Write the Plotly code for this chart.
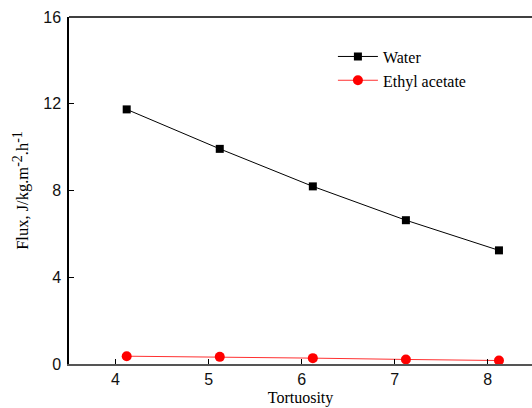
import plotly.graph_objects as go

tortuosity = [4.12, 5.12, 6.12, 7.12, 8.12]
water_flux = [11.74, 9.92, 8.19, 6.63, 5.24]
ethyl_flux = [0.36, 0.33, 0.27, 0.21, 0.16]
x_ticks = [4, 5, 6, 7, 8]
y_ticks = [0, 4, 8, 12, 16]

fig = go.Figure()
fig.add_trace(go.Scatter(
    x=tortuosity, y=water_flux, name="Water", mode="lines+markers",
    line=dict(color="black", width=1),
    marker=dict(symbol="square", size=8, color="black"),
))
fig.add_trace(go.Scatter(
    x=tortuosity, y=ethyl_flux, name="Ethyl acetate", mode="lines+markers",
    line=dict(color="#ff3030", width=1),
    marker=dict(symbol="circle", size=10, color="#ff0000"),
))

fig.add_shape(type="line", xref="paper", yref="paper", x0=0, x1=1, y0=1, y1=1,
              line=dict(color="black", width=1.5))

sup_style = '<span style="font-size:14px">'
y_title = ("Flux, J/kg.m<sup>" + sup_style + "-2</span></sup>.h<sup>"
           + sup_style + "-1</span></sup>")

fig.update_layout(
    width=532, height=408,
    margin=dict(l=69, r=0, t=17, b=44),
    plot_bgcolor="white", paper_bgcolor="white",
    showlegend=True,
    legend=dict(x=0.57, y=0.935, xanchor="left", yanchor="top",
                font=dict(family="Liberation Serif", size=16, color="black"),
                bgcolor="rgba(0,0,0,0)", tracegroupgap=0, itemwidth=40),
    xaxis=dict(
        range=[3.5, 8.475], tickvals=x_ticks, ticks="inside", ticklen=5,
        tickcolor="black", showline=True, linecolor="#555555", linewidth=1.5,
        showgrid=False, zeroline=False,
        tickfont=dict(family="Liberation Sans", size=16, color="#111111"),
        title=dict(text="Tortuosity", standoff=5,
                   font=dict(family="Liberation Serif", size=16, color="black")),
    ),
    yaxis=dict(
        range=[0, 16], tickvals=y_ticks, ticks="inside", ticklen=5,
        tickcolor="black", showline=True, linecolor="black", linewidth=1.5,
        showgrid=False, zeroline=False, ticklabelstandoff=3,
        tickfont=dict(family="Liberation Sans", size=16, color="#111111"),
        title=dict(text=y_title, standoff=10,
                   font=dict(family="Liberation Serif", size=16.5, color="black")),
    ),
)

fig.write_html("out.html")
